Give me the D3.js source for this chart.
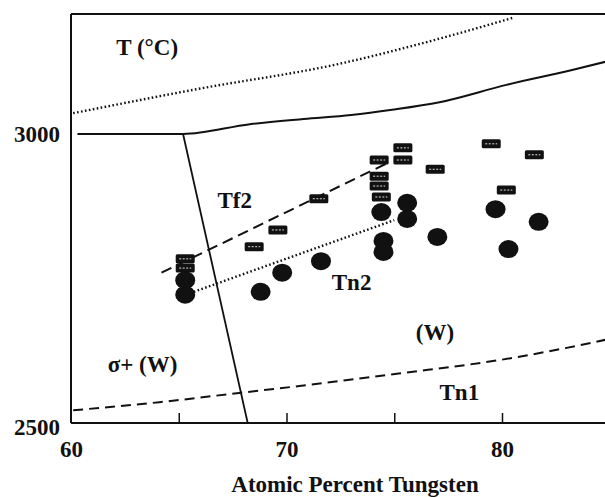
<!DOCTYPE html>
<html>
<head>
<meta charset="utf-8">
<script src="https://cdn.jsdelivr.net/npm/d3@7"></script>
<style>
  body { margin: 0; background: #fff; }
  svg { display: block; }
  text { font-family: "Liberation Serif", "Times New Roman", serif; fill: #111; }
  .domain { display: none; }
</style>
</head>
<body>
<script>
"use strict";

// tick labels
var xTickValues = [60, 65, 70, 75, 80];
var xTickLabels = ["60", "", "70", "", "80"];
var yTickValues = [2500, 3000];

// phase boundaries (atomic % W, temperature)
var topDottedX = [60.1, 65.9, 72.4, 77.2, 80.5];
var topDottedT = [3036, 3078, 3121, 3166, 3201];

var solidTopX = [60.3, 65.2, 68.3, 70.8, 73.0, 74.9, 77.1, 80.2, 83.3, 84.8];
var solidTopT = [3000, 3000, 3017, 3026, 3033, 3042, 3055, 3085, 3111, 3125];

var slantX = [65.2, 68.2];
var slantT = [3000, 2500];

var tn1X = [60.1, 64.1, 67.8, 70.6, 75.3, 79.9, 83.0, 84.8];
var tn1T = [2522, 2536, 2552, 2564, 2586, 2609, 2630, 2644];

var tf2X = [64.2, 74.7];
var tf2T = [2760, 2950];

var tn2X = [65.7, 75.0];
var tn2T = [2727, 2851];

// measured points
var boxX = [65.3, 65.3, 68.5, 69.6, 71.5, 75.4, 74.3, 75.4, 74.3, 74.3, 74.4, 76.9, 79.5, 81.5, 80.2];
var boxT = [2784, 2768, 2805, 2834, 2888, 2976, 2955, 2955, 2927, 2910, 2891, 2939, 2983, 2964, 2903];

var dotX = [65.3, 65.3, 68.8, 69.8, 71.6, 74.4, 75.6, 75.6, 74.5, 74.5, 77.0, 79.7, 81.7, 80.3];
var dotT = [2747, 2722, 2727, 2760, 2780, 2865, 2881, 2853, 2815, 2796, 2822, 2870, 2848, 2801];

// region labels
var regionNames = ["T (°C)", "Tf2", "Tn2", "(W)", "Tn1", "σ+ (W)"];
var regionX = [62.1, 66.8, 72.1, 76.0, 77.1, 61.7];
var regionT = [3137, 2872, 2730, 2644, 2540, 2588];

var width = 605;
var height = 498;

var svg = d3.select("body").append("svg")
  .attr("width", width)
  .attr("height", height);

var x = d3.scaleLinear().domain([60, 85]).range([71, 609.75]);
var y = d3.scaleLinear().domain([2500, 3000]).range([423, 134]);

var zip = function(xs, ts) {
  return xs.map(function(v, i) { return [v, ts[i]]; });
};

var line = d3.line()
  .x(function(d) { return x(d[0]); })
  .y(function(d) { return y(d[1]); })
  .curve(d3.curveMonotoneX);

var straight = d3.line()
  .x(function(d) { return x(d[0]); })
  .y(function(d) { return y(d[1]); });

// frame
svg.append("line")
  .attr("x1", x(60)).attr("x2", width)
  .attr("y1", y.range()[0]).attr("y2", y.range()[0])
  .attr("stroke", "#111").attr("stroke-width", 2);
svg.append("line")
  .attr("x1", x(60)).attr("x2", width)
  .attr("y1", 14).attr("y2", 14)
  .attr("stroke", "#111").attr("stroke-width", 2);
svg.append("line")
  .attr("x1", x(60)).attr("x2", x(60))
  .attr("y1", 14).attr("y2", y(2500))
  .attr("stroke", "#111").attr("stroke-width", 2);

// axes
var xAxis = d3.axisBottom(x)
  .tickValues(xTickValues)
  .tickSize(0)
  .tickPadding(18)
  .tickFormat(function(d, i) { return xTickLabels[i]; });

var gx = svg.append("g")
  .attr("transform", "translate(0," + y(2500) + ")")
  .call(xAxis);
gx.attr("font-size", null).attr("font-family", null);
gx.selectAll("text").style("font-size", "23px").attr("font-weight", "bold").attr("dy", "0.71em");

gx.selectAll(".tick").append("line")
  .attr("y1", 0).attr("y2", function(d) { return d === 60 ? 0 : -10; })
  .attr("stroke", "#111").attr("stroke-width", 1.5);

var yAxis = d3.axisLeft(y)
  .tickValues(yTickValues)
  .tickSize(0)
  .tickPadding(11)
  .tickFormat(d3.format("d"));

var gy = svg.append("g")
  .attr("transform", "translate(" + x(60) + ",0)")
  .call(yAxis);
gy.attr("font-size", null).attr("font-family", null);
gy.selectAll("text").style("font-size", "23px").attr("font-weight", "bold");
gy.selectAll(".tick").filter(function(d) { return d === 2500; })
  .select("text").attr("dy", "0.5em");

svg.append("text")
  .attr("x", 355)
  .attr("y", 492)
  .attr("text-anchor", "middle")
  .style("font-size", "23px")
  .attr("font-weight", "bold")
  .text("Atomic Percent Tungsten");

// boundaries
svg.append("path")
  .attr("d", line(zip(topDottedX, topDottedT)))
  .attr("fill", "none").attr("stroke", "#111")
  .attr("stroke-width", 2.4).attr("stroke-dasharray", "1.6,2.4");

svg.append("path")
  .attr("d", line(zip(solidTopX, solidTopT)))
  .attr("fill", "none").attr("stroke", "#111").attr("stroke-width", 2);

svg.append("path")
  .attr("d", straight(zip(slantX, slantT)))
  .attr("fill", "none").attr("stroke", "#111").attr("stroke-width", 1.8);

svg.append("path")
  .attr("d", line(zip(tn1X, tn1T)))
  .attr("fill", "none").attr("stroke", "#111")
  .attr("stroke-width", 2).attr("stroke-dasharray", "10,6");

svg.append("path")
  .attr("d", straight(zip(tf2X, tf2T)))
  .attr("fill", "none").attr("stroke", "#111")
  .attr("stroke-width", 2).attr("stroke-dasharray", "11,6");

svg.append("path")
  .attr("d", straight(zip(tn2X, tn2T)))
  .attr("fill", "none").attr("stroke", "#111")
  .attr("stroke-width", 2.4).attr("stroke-dasharray", "1.6,2.4");

// hatched boxes
var boxes = svg.append("g").selectAll("g")
  .data(zip(boxX, boxT))
  .enter().append("g")
  .attr("transform", function(d) { return "translate(" + x(d[0]) + "," + y(d[1]) + ")"; });

boxes.append("rect")
  .attr("x", -9.5).attr("y", -4.5)
  .attr("width", 19).attr("height", 9)
  .attr("rx", 1.5)
  .attr("fill", "#111");

boxes.append("line")
  .attr("x1", -6).attr("x2", 6)
  .attr("y1", 0).attr("y2", 0)
  .attr("stroke", "#ddd").attr("stroke-width", 1)
  .attr("stroke-dasharray", "2,1.5");

// filled dots
svg.append("g").selectAll("ellipse")
  .data(zip(dotX, dotT))
  .enter().append("ellipse")
  .attr("cx", function(d) { return x(d[0]); })
  .attr("cy", function(d) { return y(d[1]); })
  .attr("rx", 10).attr("ry", 9)
  .attr("fill", "#111");

// region labels
svg.append("g").selectAll("text")
  .data(regionNames)
  .enter().append("text")
  .attr("x", function(d, i) { return x(regionX[i]); })
  .attr("y", function(d, i) { return y(regionT[i]); })
  .style("font-size", "23px")
  .attr("font-weight", "bold")
  .text(function(d) { return d; });
</script>
</body>
</html>
